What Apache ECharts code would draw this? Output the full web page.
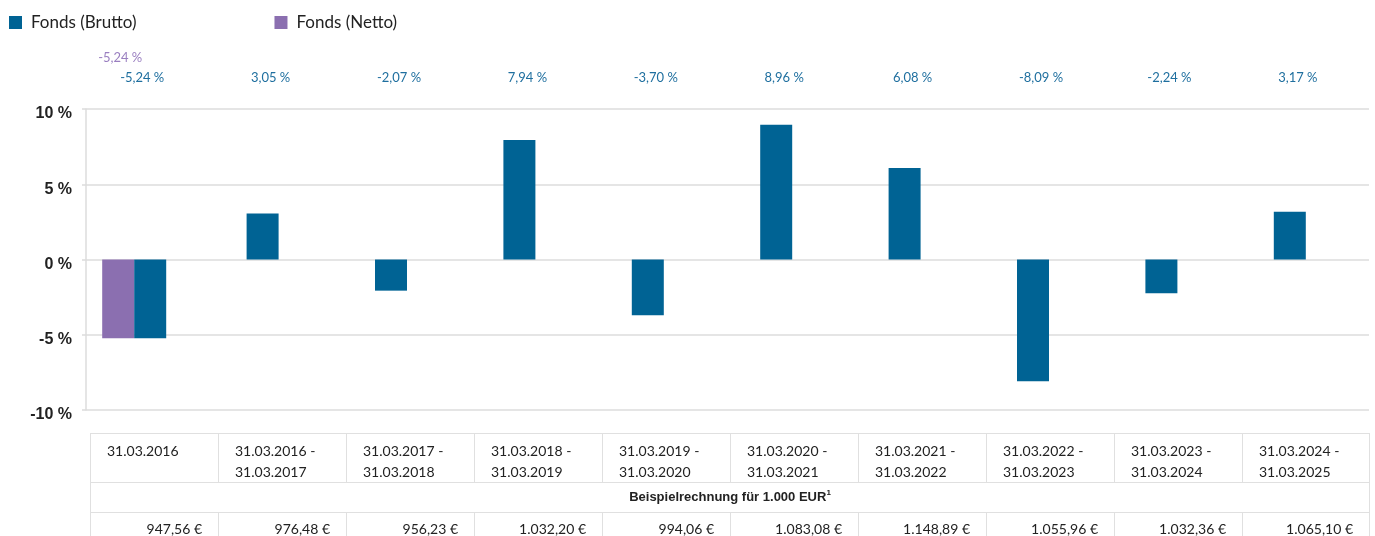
<!DOCTYPE html>
<html><head><meta charset="utf-8">
<script src="https://cdn.jsdelivr.net/npm/echarts@6/dist/echarts.min.js"></script>
<style>
html,body{margin:0;padding:0;background:#fff;}
#c{position:absolute;left:0;top:0;width:1375px;height:536px;}
#t{position:absolute;left:90px;top:433px;width:1279px;border-collapse:collapse;font-family:Lato,"Noto Sans",sans-serif;font-size:14px;color:#222;table-layout:fixed;}
#t td{border:1.5px solid #e0e0e0;padding:0;vertical-align:top;}
#t tr.h td{height:47px;padding:6px 0 0 16px;line-height:21px;box-sizing:border-box;}
#t tr.m td{height:29px;text-align:center;font-family:"Liberation Sans",Arial,sans-serif;font-weight:bold;font-size:13px;line-height:28px;}
#t tr.v td{height:30px;text-align:right;padding:6px 16px 0 0;line-height:20px;box-sizing:border-box;}
sup{font-size:8px;vertical-align:top;line-height:8px;position:relative;top:6px;}
</style></head>
<body>
<div id="c"></div>
<table id="t"></table>
<script>
const categories = ["31.03.2016","31.03.2016 -\n31.03.2017","31.03.2017 -\n31.03.2018","31.03.2018 -\n31.03.2019","31.03.2019 -\n31.03.2020","31.03.2020 -\n31.03.2021","31.03.2021 -\n31.03.2022","31.03.2022 -\n31.03.2023","31.03.2023 -\n31.03.2024","31.03.2024 -\n31.03.2025"];
const brutto = [-5.24, 3.05, -2.07, 7.94, -3.70, 8.96, 6.08, -8.09, -2.24, 3.17];
const netto = [-5.24, null, null, null, null, null, null, null, null, null];
const beispiel = ["947,56 €","976,48 €","956,23 €","1.032,20 €","994,06 €","1.083,08 €","1.148,89 €","1.055,96 €","1.032,36 €","1.065,10 €"];
const tableTitle = "Beispielrechnung für 1.000 EUR";
const yTicks = [-10, -5, 0, 5, 10];

const BLUE = "#006394", PURPLE = "#8b6fb0";
const fmt = v => v.toFixed(2).replace('.', ',') + ' %';

const bruttoFirst = brutto.map((v, i) => i === 0 ? v : null);
const bruttoRest = brutto.map((v, i) => i === 0 ? null : v);

const chart = echarts.init(document.getElementById('c'));
chart.setOption({
  animation: false,
  legend: {
    data: ['Fonds (Brutto)', 'Fonds (Netto)'],
    left: 9, top: 14, padding: 0, itemWidth: 13, itemHeight: 13, itemGap: 138,
    icon: 'rect',
    textStyle: {fontFamily: 'Lato', fontSize: 17, color: '#222', padding: [0,0,0,4]}
  },
  grid: [
    {left: 86, right: 6, top: 109, bottom: 126},
    {left: 70, right: 21, top: 109, bottom: 126}
  ],
  xAxis: [
    {type: 'category', gridIndex: 0, data: categories, show: false},
    {type: 'category', gridIndex: 1, data: categories, show: false},
    {type: 'category', gridIndex: 1, data: categories, show: false}
  ],
  yAxis: [
    {type: 'value', gridIndex: 0, min: yTicks[0], max: yTicks[yTicks.length-1], interval: 5,
     axisLine: {show: true, lineStyle: {color: '#dcdcdc', width: 1.5}},
     axisTick: {show: true, length: 4, lineStyle: {color: '#dcdcdc', width: 1.5}},
     splitLine: {lineStyle: {color: '#dcdcdc', width: 1.5}},
     axisLabel: {formatter: v => v + ' %', margin: 14, verticalAlign: 'top', lineHeight: 10, padding: [0,0,0,0], fontFamily: '"Liberation Sans", Arial', fontWeight: 'bold', fontSize: 16, color: '#222'}},
    {type: 'value', gridIndex: 1, min: yTicks[0], max: yTicks[yTicks.length-1], interval: 5, show: false, splitLine: {show: false}}
  ],
  series: [
    {name: 'Fonds (Netto)', type: 'bar', xAxisIndex: 1, yAxisIndex: 1, data: netto, barWidth: 32, barGap: 0, itemStyle: {color: PURPLE}},
    {name: 'Fonds (Brutto)', type: 'bar', xAxisIndex: 1, yAxisIndex: 1, data: bruttoFirst, barWidth: 32, barGap: 0, itemStyle: {color: BLUE}},
    {name: 'Fonds (Brutto)', type: 'bar', xAxisIndex: 2, yAxisIndex: 1, data: bruttoRest, barWidth: 32, barGap: 0, itemStyle: {color: BLUE}},
    {name: 'lblB', type: 'custom', xAxisIndex: 2, yAxisIndex: 1, silent: true, clip: false,
     data: brutto.map((v, i) => [i, v]),
     renderItem: (params, api) => {
       const x = api.coord([api.value(0), 0])[0] + 8;
       return {type: 'text', style: {x: x, y: 78, text: fmt(api.value(1)), fill: '#1f6f9f', font: '13px Lato', align: 'center', verticalAlign: 'middle'}};
     }},
    {name: 'lblN', type: 'custom', xAxisIndex: 1, yAxisIndex: 1, silent: true, clip: false,
     data: netto.map((v, i) => [i, v]).filter(d => d[1] !== null),
     renderItem: (params, api) => {
       const x = api.coord([api.value(0), 0])[0] - 14;
       return {type: 'text', style: {x: x, y: 58, text: fmt(api.value(1)), fill: '#9a7fc0', font: '13px Lato', align: 'center', verticalAlign: 'middle'}};
     }}
  ]
});

// table below chart built from the data arrays
const t = document.getElementById('t');
const cg = document.createElement('colgroup');
categories.forEach((c, i) => { const col = document.createElement('col'); col.style.width = (i === categories.length-1 ? 127 : 128) + 'px'; cg.appendChild(col); });
t.appendChild(cg);
const r1 = document.createElement('tr'); r1.className = 'h';
categories.forEach(c => { const td = document.createElement('td'); td.innerHTML = c.replace('\n', '<br>'); r1.appendChild(td); });
t.appendChild(r1);
const r2 = document.createElement('tr'); r2.className = 'm';
const td2 = document.createElement('td'); td2.colSpan = categories.length; td2.innerHTML = tableTitle + '<sup>1</sup>'; r2.appendChild(td2);
t.appendChild(r2);
const r3 = document.createElement('tr'); r3.className = 'v';
beispiel.forEach(v => { const td = document.createElement('td'); td.textContent = v; r3.appendChild(td); });
t.appendChild(r3);
</script>
</body></html>
